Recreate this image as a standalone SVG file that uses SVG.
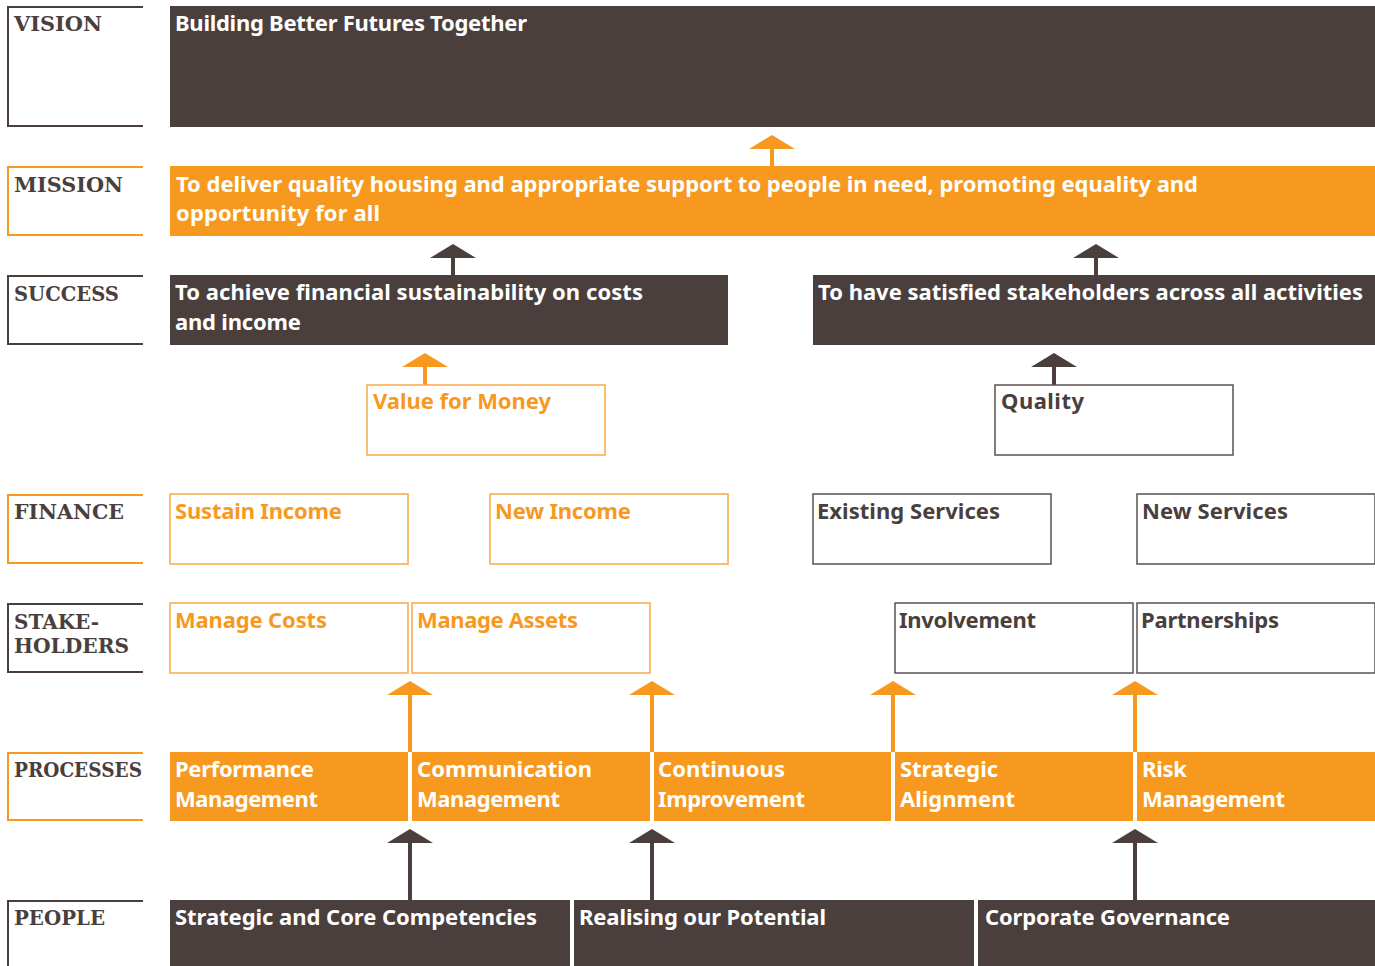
<svg xmlns="http://www.w3.org/2000/svg" width="1375" height="966" viewBox="0 0 1375 966">
  <style>
    .lbl { font-family: "DejaVu Serif", "Liberation Serif", serif; font-weight: bold; font-size: 21px; fill: #4a3f3d; }
    .txt { font-family: "Noto Sans", "Open Sans", sans-serif; font-weight: bold; font-size: 22px; }
    .tw { fill: #ffffff; }
    .to { fill: #f7991f; }
    .td { fill: #4a3f3d; }
    .fd { fill: #4a3f3d; }
    .fo { fill: #f7991f; }
    .bo { fill: #ffffff; stroke: #f9a845; stroke-width: 1.5; }
    .bd { fill: #ffffff; stroke: #5a5250; stroke-width: 1.5; }
    .ko { fill: none; stroke: #f7991f; stroke-width: 2; }
    .kd { fill: none; stroke: #4a3f3d; stroke-width: 2; }
    .ao { stroke: #f7991f; stroke-width: 4; fill: none; }
    .ad { stroke: #4a3f3d; stroke-width: 4; fill: none; }
  </style>
  <defs>
    <marker id="headO" viewBox="0 0 46 14" refX="23" refY="1" markerWidth="46" markerHeight="14" markerUnits="userSpaceOnUse" orient="0">
      <path d="M0,14 L23,0 L46,14 Z" fill="#f7991f"/>
    </marker>
    <marker id="headD" viewBox="0 0 46 14" refX="23" refY="1" markerWidth="46" markerHeight="14" markerUnits="userSpaceOnUse" orient="0">
      <path d="M0,14 L23,0 L46,14 Z" fill="#4a3f3d"/>
    </marker>
  </defs>

  <!-- row labels: open on the right side -->
  <g id="row-labels">
    <path class="kd" d="M143,7 H8 V126 H143"/>
    <text class="lbl" x="14" y="31" textLength="88" lengthAdjust="spacingAndGlyphs">VISION</text>
    <path class="ko" d="M143,167 H8 V235 H143"/>
    <text class="lbl" x="14" y="192" textLength="109" lengthAdjust="spacingAndGlyphs">MISSION</text>
    <path class="kd" d="M143,276 H8 V344 H143"/>
    <text class="lbl" x="14" y="301" textLength="105" lengthAdjust="spacingAndGlyphs">SUCCESS</text>
    <path class="ko" d="M143,495 H8 V563 H143"/>
    <text class="lbl" x="14" y="519" textLength="110" lengthAdjust="spacingAndGlyphs">FINANCE</text>
    <path class="kd" d="M143,604 H8 V672 H143"/>
    <text class="lbl" x="14" y="629" textLength="85" lengthAdjust="spacingAndGlyphs">STAKE-</text>
    <text class="lbl" x="14" y="653" textLength="115" lengthAdjust="spacingAndGlyphs">HOLDERS</text>
    <path class="ko" d="M143,753 H8 V820 H143"/>
    <text class="lbl" x="14" y="777" textLength="128" lengthAdjust="spacingAndGlyphs">PROCESSES</text>
    <path class="kd" d="M143,901 H8 V966"/>
    <text class="lbl" x="14" y="925" textLength="91" lengthAdjust="spacingAndGlyphs">PEOPLE</text>
  </g>

  <!-- connectors -->
  <g id="connectors">
    <line class="ao" x1="772" y1="166" x2="772" y2="136" marker-end="url(#headO)"/>
    <line class="ad" x1="453" y1="275" x2="453" y2="245" marker-end="url(#headD)"/>
    <line class="ad" x1="1096" y1="275" x2="1096" y2="245" marker-end="url(#headD)"/>
    <line class="ao" x1="425" y1="385" x2="425" y2="354" marker-end="url(#headO)"/>
    <line class="ad" x1="1054" y1="385" x2="1054" y2="354" marker-end="url(#headD)"/>
    <line class="ao" x1="410" y1="752" x2="410" y2="682" marker-end="url(#headO)"/>
    <line class="ao" x1="652" y1="752" x2="652" y2="682" marker-end="url(#headO)"/>
    <line class="ao" x1="893" y1="752" x2="893" y2="682" marker-end="url(#headO)"/>
    <line class="ao" x1="1135" y1="752" x2="1135" y2="682" marker-end="url(#headO)"/>
    <line class="ad" x1="410" y1="900" x2="410" y2="830" marker-end="url(#headD)"/>
    <line class="ad" x1="652" y1="900" x2="652" y2="830" marker-end="url(#headD)"/>
    <line class="ad" x1="1135" y1="900" x2="1135" y2="830" marker-end="url(#headD)"/>
  </g>

  <g id="vision">
    <rect class="fd" x="170" y="6" width="1205" height="121"/>
    <text class="txt tw" x="175" y="31" textLength="352">Building Better Futures Together</text>
  </g>
  <g id="mission">
    <rect class="fo" x="170" y="166" width="1205" height="70"/>
    <text class="txt tw" x="176" y="192" textLength="1022">To deliver quality housing and appropriate support to people in need, promoting equality and</text>
    <text class="txt tw" x="176" y="221" textLength="204">opportunity for all</text>
  </g>
  <g id="success-finance">
    <rect class="fd" x="170" y="275" width="558" height="70"/>
    <text class="txt tw" x="175" y="300" textLength="468">To achieve financial sustainability on costs</text>
    <text class="txt tw" x="175" y="330" textLength="126">and income</text>
  </g>
  <g id="success-stakeholders">
    <rect class="fd" x="813" y="275" width="562" height="70"/>
    <text class="txt tw" x="818" y="300" textLength="545">To have satisfied stakeholders across all activities</text>
  </g>
  <g id="value-for-money">
    <rect class="bo" x="367" y="385" width="238" height="70"/>
    <text class="txt to" x="373" y="409" textLength="178">Value for Money</text>
  </g>
  <g id="quality">
    <rect class="bd" x="995" y="385" width="238" height="70"/>
    <text class="txt td" x="1001" y="409" textLength="83">Quality</text>
  </g>

  <g id="sustain-income">
    <rect class="bo" x="170" y="494" width="238" height="70"/>
    <text class="txt to" x="175" y="519" textLength="167">Sustain Income</text>
  </g>
  <g id="new-income">
    <rect class="bo" x="490" y="494" width="238" height="70"/>
    <text class="txt to" x="495" y="519" textLength="136">New Income</text>
  </g>
  <g id="existing-services">
    <rect class="bd" x="813" y="494" width="238" height="70"/>
    <text class="txt td" x="817" y="519" textLength="183">Existing Services</text>
  </g>
  <g id="new-services">
    <rect class="bd" x="1137" y="494" width="238" height="70"/>
    <text class="txt td" x="1142" y="519" textLength="146">New Services</text>
  </g>

  <g id="manage-costs">
    <rect class="bo" x="170" y="603" width="238" height="70"/>
    <text class="txt to" x="175" y="628" textLength="152">Manage Costs</text>
  </g>
  <g id="manage-assets">
    <rect class="bo" x="412" y="603" width="238" height="70"/>
    <text class="txt to" x="417" y="628" textLength="161">Manage Assets</text>
  </g>
  <g id="involvement">
    <rect class="bd" x="895" y="603" width="238" height="70"/>
    <text class="txt td" x="899" y="628" textLength="137">Involvement</text>
  </g>
  <g id="partnerships">
    <rect class="bd" x="1137" y="603" width="238" height="70"/>
    <text class="txt td" x="1141" y="628" textLength="138">Partnerships</text>
  </g>

  <g id="performance-management">
    <rect class="fo" x="170" y="752" width="238" height="69"/>
    <text class="txt tw" x="175" y="777" textLength="139">Performance</text>
    <text class="txt tw" x="175" y="807" textLength="143">Management</text>
  </g>
  <g id="communication-management">
    <rect class="fo" x="412" y="752" width="238" height="69"/>
    <text class="txt tw" x="417" y="777" textLength="175">Communication</text>
    <text class="txt tw" x="417" y="807" textLength="143">Management</text>
  </g>
  <g id="continuous-improvement">
    <rect class="fo" x="654" y="752" width="237" height="69"/>
    <text class="txt tw" x="658" y="777" textLength="127">Continuous</text>
    <text class="txt tw" x="658" y="807" textLength="147">Improvement</text>
  </g>
  <g id="strategic-alignment">
    <rect class="fo" x="895" y="752" width="238" height="69"/>
    <text class="txt tw" x="900" y="777" textLength="98">Strategic</text>
    <text class="txt tw" x="900" y="807" textLength="115">Alignment</text>
  </g>
  <g id="risk-management">
    <rect class="fo" x="1137" y="752" width="238" height="69"/>
    <text class="txt tw" x="1142" y="777" textLength="45">Risk</text>
    <text class="txt tw" x="1142" y="807" textLength="143">Management</text>
  </g>

  <g id="core-competencies">
    <rect class="fd" x="170" y="900" width="400" height="66"/>
    <text class="txt tw" x="175" y="925" textLength="362">Strategic and Core Competencies</text>
  </g>
  <g id="realising-potential">
    <rect class="fd" x="574" y="900" width="400" height="66"/>
    <text class="txt tw" x="579" y="925" textLength="247">Realising our Potential</text>
  </g>
  <g id="corporate-governance">
    <rect class="fd" x="978" y="900" width="397" height="66"/>
    <text class="txt tw" x="985" y="925" textLength="245">Corporate Governance</text>
  </g>
</svg>
